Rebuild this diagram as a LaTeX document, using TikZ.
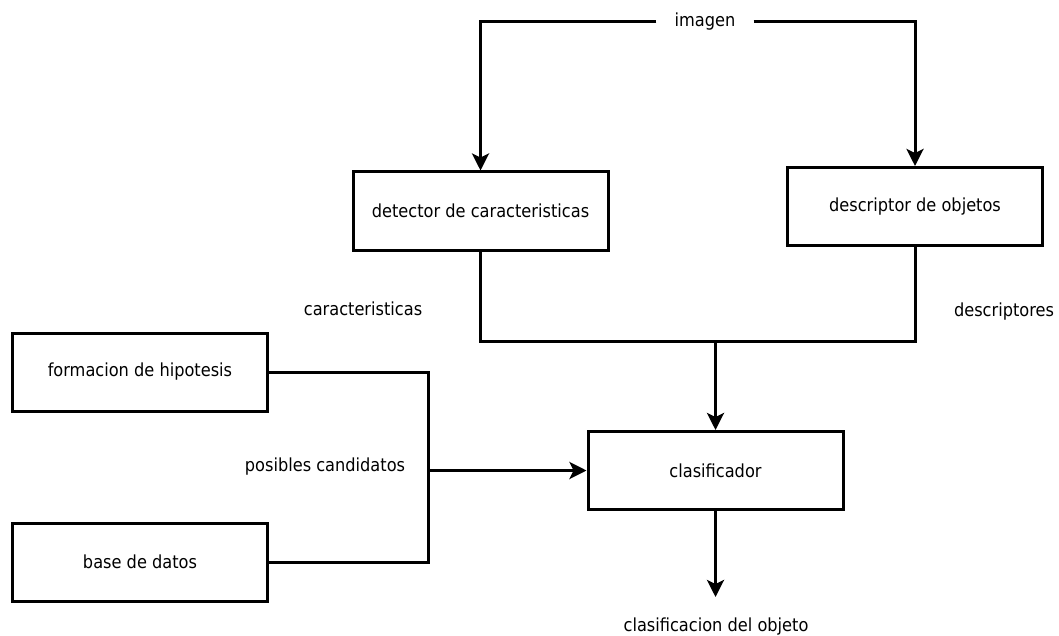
\documentclass[tikz,border=0pt]{standalone}
\usepackage{fontspec}
\setmainfont{DejaVu Sans Condensed}
\usetikzlibrary{arrows.meta}
\begin{document}
\begin{tikzpicture}[x=1pt,y=-1pt,
  blk/.style={draw, line width=3pt, minimum width=255pt, minimum height=78pt, inner sep=0pt, font=\fontsize{18}{20}\selectfont},
  lbl/.style={inner sep=0pt, font=\fontsize{18}{20}\selectfont},
  wire/.style={line width=3pt},
  flow/.style={wire, -{Stealth[length=17pt,width=17pt,inset=4pt]}}]
\useasboundingbox (0,0) rectangle (1059,636);
% blocks
\node[blk] (det) at (480.5,211) {detector de caracteristicas};
\node[blk] (desc) at (915,206.5) {descriptor de objetos};
\node[blk] (clas) at (715.5,470.5) {clasificador};
\node[blk] (form) at (140,372) {formacion de hipotesis};
\node[blk] (base) at (140,562) {base de datos};
% labels
\node[lbl] (img) at (705,22) {imagen};
\node[lbl] (car) at (363,309) {caracteristicas};
\node[lbl] (dsc) at (1004,312) {descriptores};
\node[lbl] (pos) at (325,467) {posibles candidatos};
\node[lbl] (out) at (716,627) {clasificacion del objeto};
% junction points
\coordinate (jl) at (428,470.5);
\coordinate (jm) at (715.5,341.5);
\coordinate (endout) at (715.5,597);
% image input to both analysers
\draw[flow] ([xshift=-18pt]img.west) -- (det.north |- img.west) -- (det.north);
\draw[flow] ([xshift=18pt]img.east) -- (desc.north |- img.east) -- (desc.north);
% features and descriptors merge into the classifier
\draw[wire] (det.south) -- (det.south |- jm) -- (jm);
\draw[wire] (desc.south) -- (desc.south |- jm) -- (jm);
\draw[flow] (jm) -- (clas.north);
% candidate hypotheses and database
\draw[wire] (form.east) -- (jl |- form.east) -- (jl |- base.east) -- (base.east);
\draw[flow] (jl) -- (clas.west);
% output
\draw[flow] (clas.south) -- (endout);
\end{tikzpicture}
\end{document}
